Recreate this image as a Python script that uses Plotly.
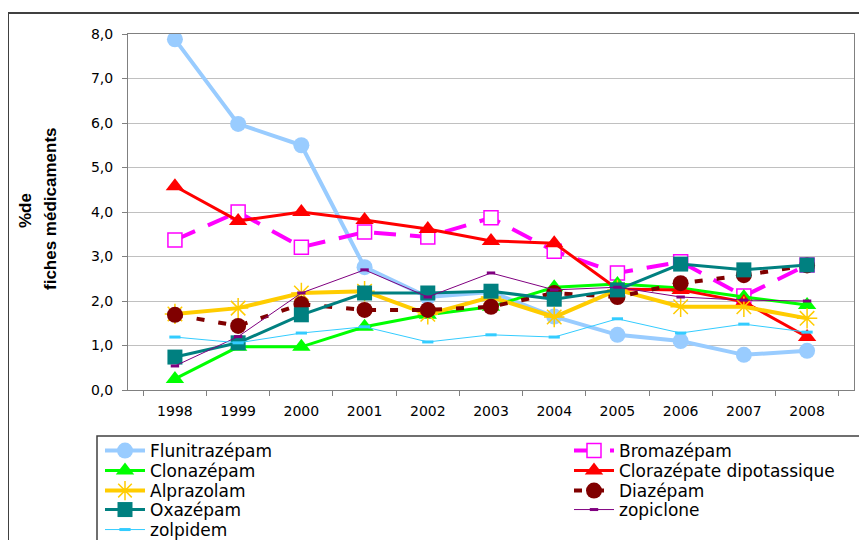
import plotly.graph_objects as go

years = ["1998", "1999", "2000", "2001", "2002", "2003", "2004", "2005", "2006", "2007", "2008"]

flunitrazepam = [7.88, 5.98, 5.50, 2.76, 2.09, 2.20, 1.65, 1.24, 1.10, 0.79, 0.88]
bromazepam = [3.37, 4.00, 3.21, 3.55, 3.44, 3.87, 3.12, 2.63, 2.88, 2.11, 2.81]
clonazepam = [0.25, 0.97, 0.97, 1.42, 1.69, 1.87, 2.31, 2.38, 2.29, 2.09, 1.91]
clorazepate = [4.58, 3.80, 4.00, 3.82, 3.62, 3.35, 3.30, 2.27, 2.25, 1.98, 1.19]
alprazolam = [1.71, 1.84, 2.18, 2.22, 1.70, 2.09, 1.64, 2.25, 1.87, 1.87, 1.61]
diazepam = [1.69, 1.44, 1.93, 1.80, 1.80, 1.87, 2.18, 2.09, 2.40, 2.58, 2.80]
oxazepam = [0.74, 1.06, 1.69, 2.18, 2.18, 2.22, 2.04, 2.25, 2.83, 2.70, 2.81]
zopiclone = [0.54, 1.20, 2.18, 2.70, 2.09, 2.63, 2.25, 2.31, 2.09, 2.02, 2.00]
zolpidem = [1.19, 1.06, 1.28, 1.42, 1.08, 1.24, 1.19, 1.60, 1.28, 1.48, 1.30]

# (name, values, line, marker)
series = [
    ("Flunitrazépam", flunitrazepam, dict(color="#99CCFF", width=4),
     dict(symbol="circle", size=16, color="#99CCFF")),
    ("Bromazépam", bromazepam, dict(color="#FF00FF", width=4, dash="22px,14px"),
     dict(symbol="square", size=14, color="white", line=dict(color="#FF00FF", width=1.5))),
    ("Clonazépam", clonazepam, dict(color="#00FF00", width=3),
     dict(symbol="triangle-up", size=16, color="#00FF00")),
    ("Clorazépate dipotassique", clorazepate, dict(color="#FF0000", width=3),
     dict(symbol="triangle-up", size=16, color="#FF0000")),
    ("Alprazolam", alprazolam, dict(color="#FFCC00", width=4),
     dict(symbol="asterisk-open", size=17, color="#FFCC00", line=dict(color="#FFCC00", width=1.5))),
    ("Diazépam", diazepam, dict(color="#800000", width=4, dash="8px,14px"),
     dict(symbol="circle", size=16, color="#800000")),
    ("Oxazépam", oxazepam, dict(color="#008080", width=3),
     dict(symbol="square", size=15, color="#008080")),
    ("zopiclone", zopiclone, dict(color="#800080", width=1),
     dict(symbol="line-ew", size=6, color="#800080", line=dict(color="#800080", width=3))),
    ("zolpidem", zolpidem, dict(color="#33CCFF", width=1),
     dict(symbol="line-ew", size=8, color="#33CCFF", line=dict(color="#33CCFF", width=3))),
]

OFF = 8  # page body margin
W, H = 867, 540
L, R, T, B = 120, 21, 26, 158
pw, ph = W - L - R, H - T - B

def px_x(p):
    return (p - OFF - L) / pw

def px_y(p):
    return (H - B - (p - OFF)) / ph

font = "Liberation Sans, Arial, sans-serif"
lfont = "DejaVu Sans, sans-serif"

row_centers = [451, 471, 491, 510, 530]
col_lefts = [100, 569]

fig = go.Figure()
legends = {}
for i, (name, vals, line, marker) in enumerate(series):
    key = "legend" if i == 0 else f"legend{i+1}"
    fig.add_trace(go.Scatter(x=years, y=vals, name=name, mode="lines+markers",
                             line=line, marker=marker, legend=key))
    legends[key] = dict(
        x=px_x(col_lefts[i % 2]), y=px_y(row_centers[i // 2] - 18), xanchor="left", yanchor="top",
        itemwidth=40, font=dict(family=lfont, size=17, color="black"),
        bgcolor="rgba(0,0,0,0)", borderwidth=0, tracegroupgap=0,
    )

fig.update_layout(
    width=W, height=H,
    margin=dict(l=L, r=R, t=T, b=B, autoexpand=False),
    paper_bgcolor="white", plot_bgcolor="white",
    separators=", ",
    font=dict(family=font, size=13, color="black"),
    showlegend=True,
    xaxis=dict(
        type="category", tickson="boundaries", ticks="outside", ticklen=5, tickcolor="#808080",
        showgrid=False, showline=True, linecolor="#808080", linewidth=1, mirror=True,
        tickfont=dict(family=lfont, size=14), ticklabelstandoff=8,
    ),
    yaxis=dict(
        range=[0, 8], dtick=1, tickformat=".1f", ticks="outside", ticklen=5, tickcolor="#808080",
        showgrid=True, gridcolor="#C0C0C0", gridwidth=1, zeroline=False,
        showline=True, linecolor="#808080", linewidth=1, mirror=True,
        tickfont=dict(family=lfont, size=14), ticklabelstandoff=6,
    ),
    shapes=[
        dict(type="rect", xref="paper", yref="paper", x0=px_x(8), x1=px_x(900), y0=px_y(600), y1=px_y(13),
             line=dict(color="#404040", width=2), fillcolor="rgba(0,0,0,0)", layer="below"),
        dict(type="rect", xref="paper", yref="paper", x0=px_x(97), x1=px_x(900), y0=px_y(600), y1=px_y(436),
             line=dict(color="#404040", width=1.5), fillcolor="rgba(0,0,0,0)", layer="above"),
    ],
    annotations=[
        dict(text="<b>%de</b>", x=px_x(25), y=px_y(211), xref="paper", yref="paper", showarrow=False,
             xanchor="center", yanchor="middle", textangle=-90, font=dict(family=font, size=17)),
        dict(text="<b>fiches médicaments</b>", x=px_x(50), y=px_y(209), xref="paper", yref="paper",
             showarrow=False, xanchor="center", yanchor="middle", textangle=-90,
             font=dict(family=font, size=17)),
    ],
    **legends,
)

fig.write_html("out.html")
